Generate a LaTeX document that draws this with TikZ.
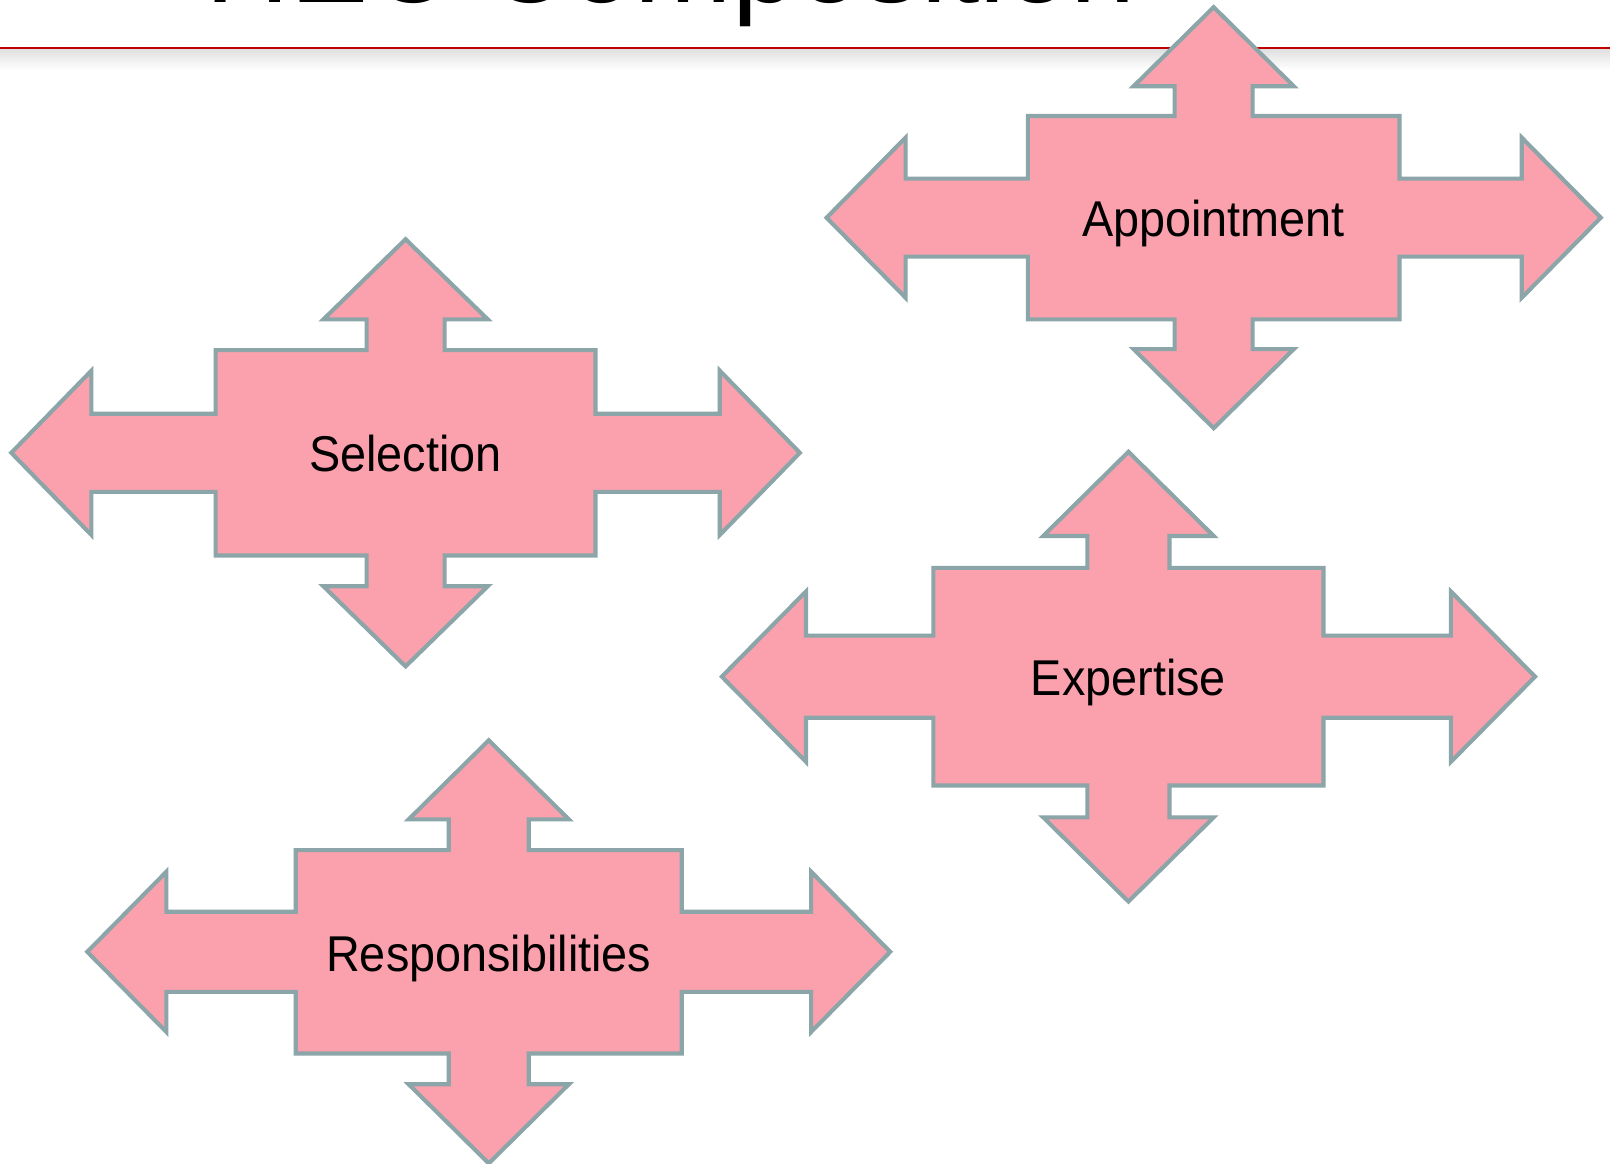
\documentclass[tikz,border=0pt]{standalone}
\usepackage{fontspec}
\setmainfont{Liberation Sans}
\definecolor{arrowfill}{HTML}{FBA1AD}
\definecolor{arrowline}{HTML}{8BA5A8}
\definecolor{rule}{HTML}{C00000}
\tikzset{
  arrowshape/.style={fill=arrowfill, draw=arrowline, line width=2pt, line join=miter},
  label/.style={font=\fontsize{24.5}{28}\selectfont, xscale=0.93, text=black, inner sep=0pt, anchor=base},
  titletext/.style={font=\fontsize{57}{60}\selectfont, anchor=base west, inner sep=0pt}
}
% #1 cx #2 cy #3 body half-width #4 body half-height #5 horizontal arm #6 vertical arm #7 head length #8 head half-width #9 shaft half-width
\newcommand\crossarrow[9]{%
\begin{scope}[shift={(#1,#2)}]
\path[arrowshape] (0,{-#4-#6-#7}) -- (#8,{-#4-#6}) -- (#9,{-#4-#6}) -- (#9,-#4) -- (#3,-#4) -- (#3,-#9) -- ({#3+#5},-#9) -- ({#3+#5},-#8) -- ({#3+#5+#7},0) -- ({#3+#5},#8) -- ({#3+#5},#9) -- (#3,#9) -- (#3,#4) -- (#9,#4) -- (#9,{#4+#6}) -- (#8,{#4+#6}) -- (0,{#4+#6+#7}) -- (-#8,{#4+#6}) -- (-#9,{#4+#6}) -- (-#9,#4) -- (-#3,#4) -- (-#3,#9) -- ({-#3-#5},#9) -- ({-#3-#5},#8) -- ({-#3-#5-#7},0) -- ({-#3-#5},-#8) -- ({-#3-#5},-#9) -- (-#3,-#9) -- (-#3,-#4) -- (-#9,-#4) -- (-#9,{-#4-#6}) -- (-#8,{-#4-#6}) -- cycle;
\end{scope}}
\begin{document}
\begin{tikzpicture}[x=0.5pt,y=-0.5pt]
\useasboundingbox (0,0) rectangle (1568,1133);
\clip (0,0) rectangle (1568,1133);
% title (cut off at top)
\node[titletext] (title) at (200,2) {HEC Composition};
% shadow and rule
\shade[top color=black!12, bottom color=white] (0,48) rectangle (1568,68);
\draw[rule, line width=1pt] (0,47) -- (1568,47);
% shapes
\crossarrow{1182}{212}{181}{99}{119}{29}{77}{78}{38}
\crossarrow{395}{441}{185}{100}{121}{30}{78}{80}{38}
\crossarrow{1099}{659}{190}{106}{124}{31}{82}{83}{40}
\crossarrow{476}{927}{188}{99}{126}{30}{77}{78}{39}
% labels
\node[label] (appointment) at (1182,230) {Appointment};
\node[label] (selection) at (395,459) {Selection};
\node[label] (expertise) at (1099,677) {Expertise};
\node[label] (responsibilities) at (476,946) {Responsibilities};
\end{tikzpicture}
\end{document}
